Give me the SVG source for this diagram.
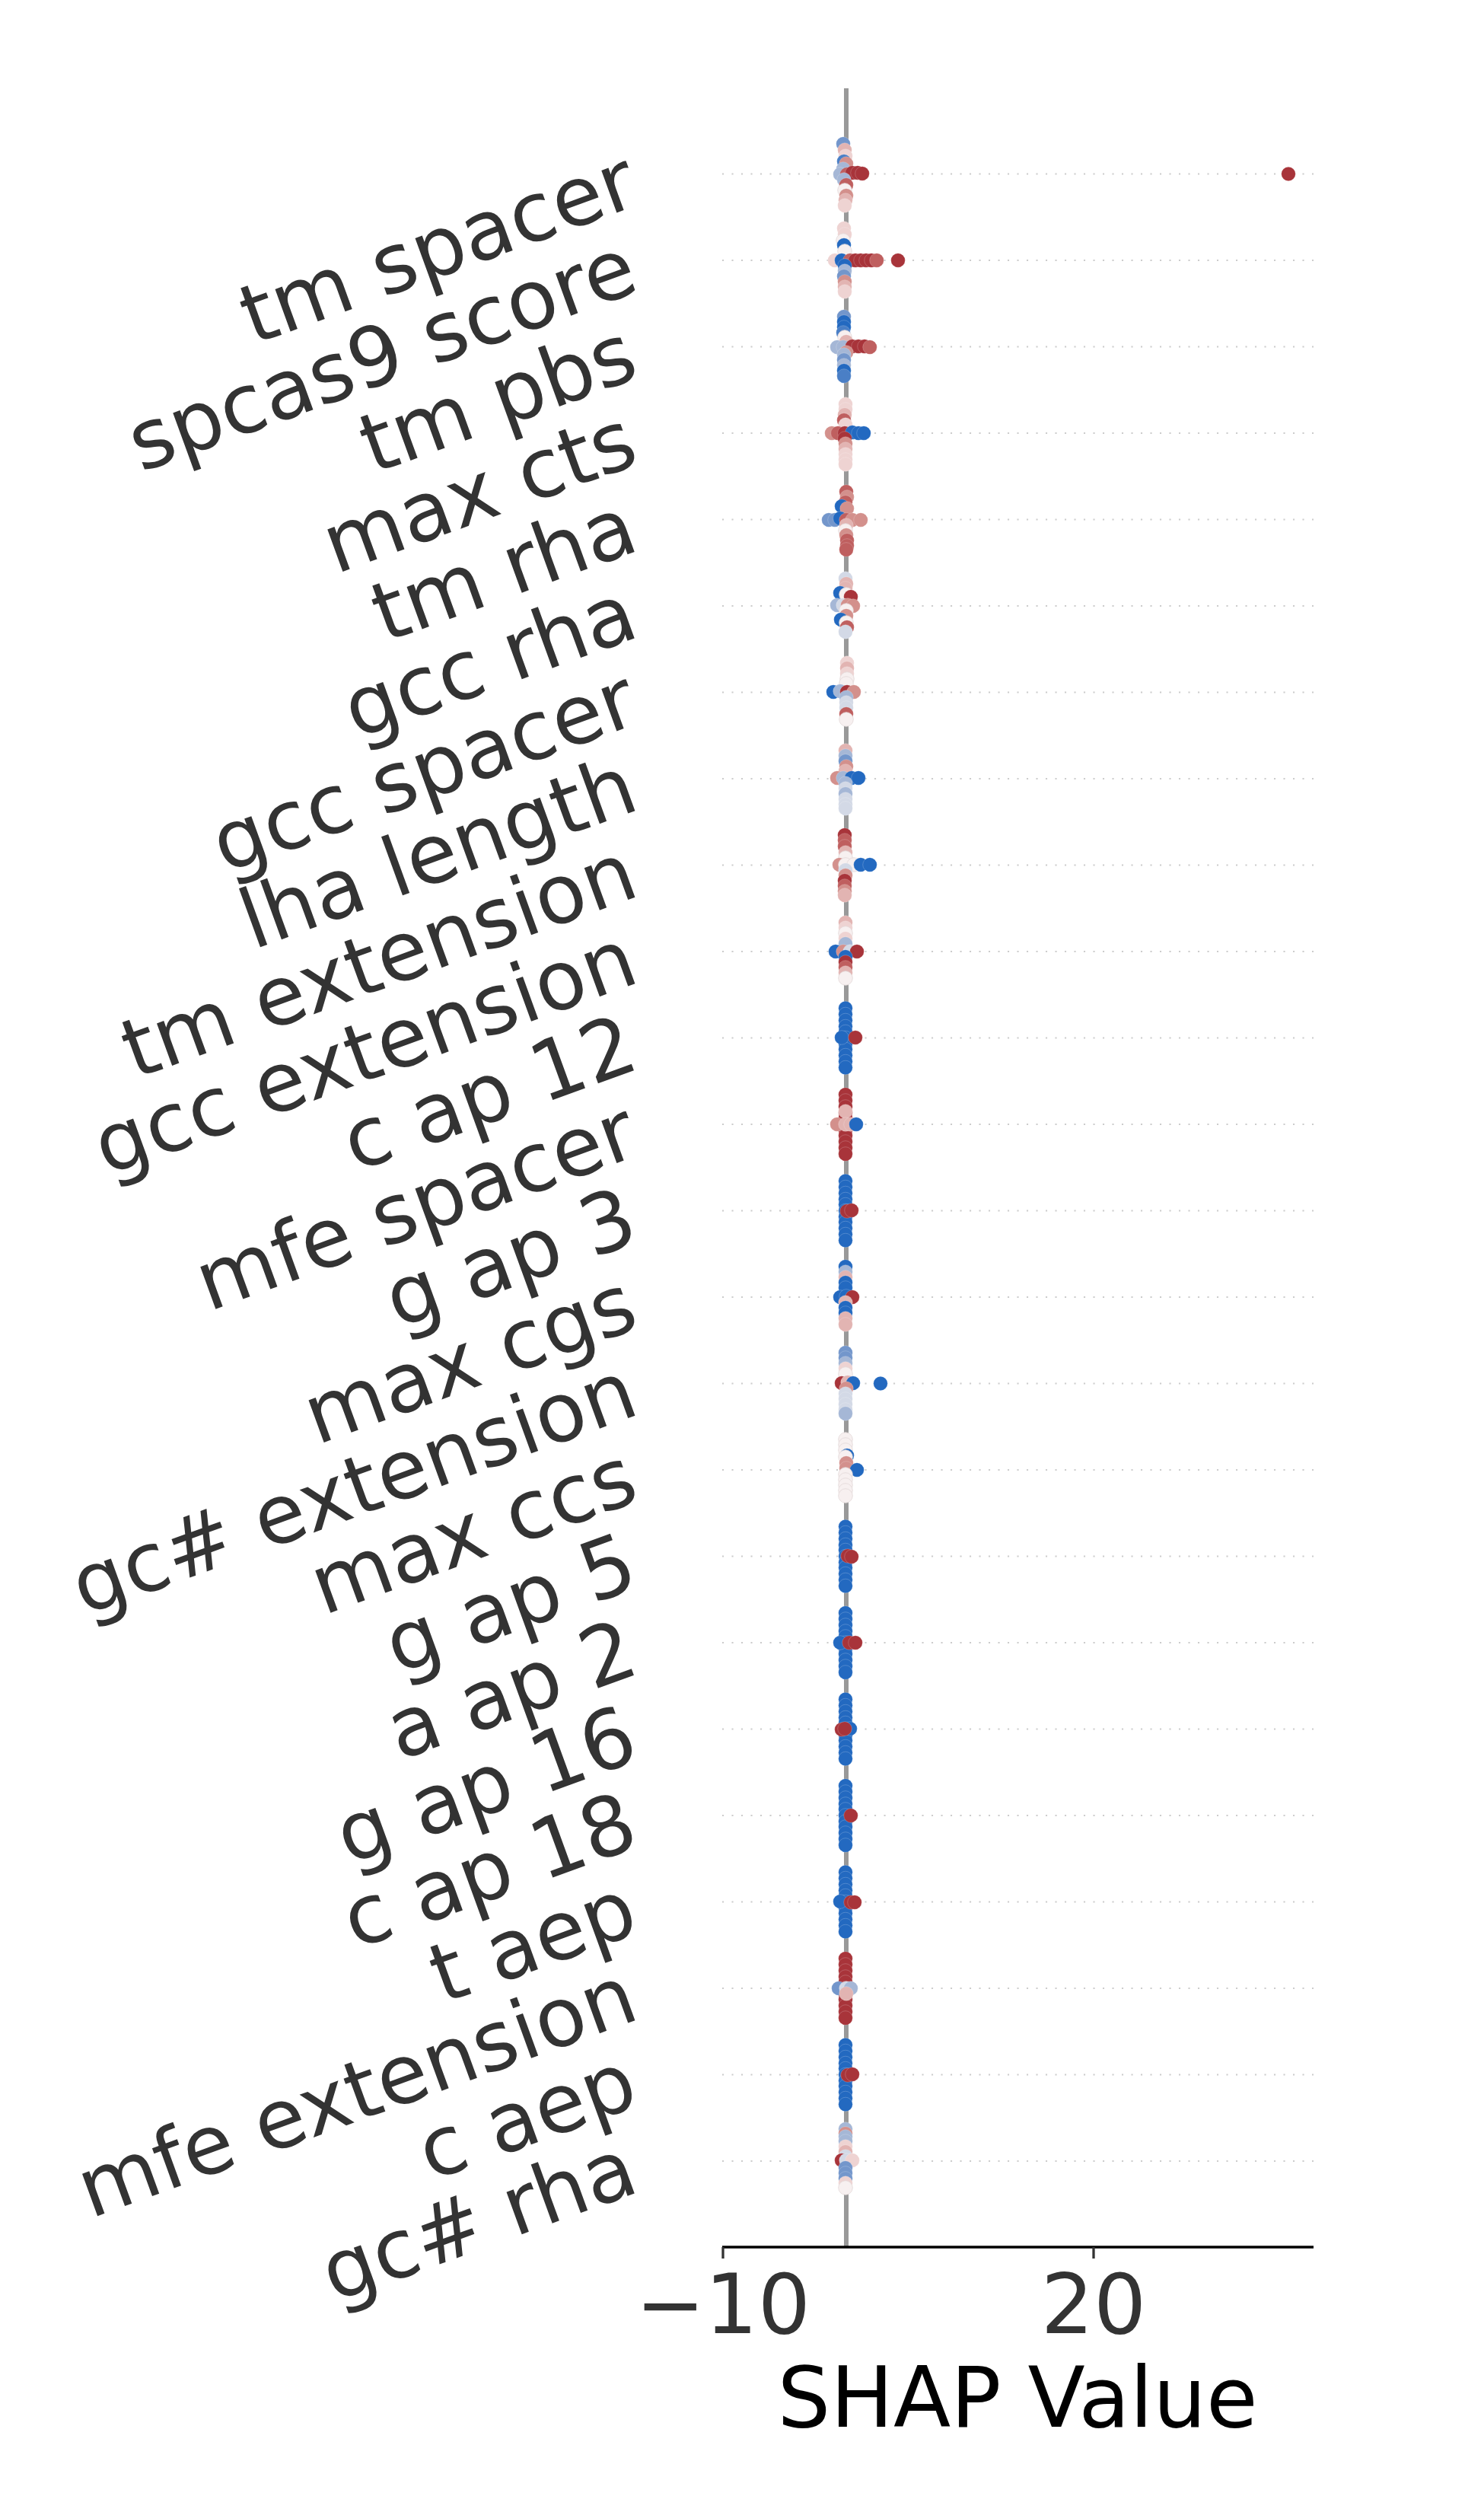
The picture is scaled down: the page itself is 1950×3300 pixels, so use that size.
<svg xmlns="http://www.w3.org/2000/svg" width="1950" height="3300" viewBox="0 0 1950 3300">
<style>
.grid{stroke:#cccccc;stroke-width:2.08;stroke-dasharray:2.08 10.42;fill:none}
.lab{font-family:"DejaVu Sans",sans-serif;font-size:108px;fill:#333333;text-anchor:end}
.tick{font-family:"DejaVu Sans",sans-serif;font-size:109px;fill:#333333;text-anchor:middle}
.xlab{font-family:"DejaVu Sans",sans-serif;font-size:110px;fill:#000000;text-anchor:middle}
circle{stroke:#ffffff;stroke-opacity:0.25;stroke-width:0.8}
.B{fill:#2369c0}.b2{fill:#4a7fc6}.b3{fill:#7396cb}.b4{fill:#a5b7d6}.b5{fill:#d3d9e6}
.W{fill:#f7f0f0;stroke:#e2d8d8;stroke-opacity:1}
.p5{fill:#eed3d2}.p4{fill:#e2b4b2}.p3{fill:#d3908c}.p2{fill:#bf5f5f}.R{fill:#a8343a}
</style>
<defs>
<g id="colB"><circle cx="0" cy="-39" r="9.3" class="B"/><circle cx="0" cy="-31" r="9.3" class="B"/><circle cx="0" cy="-23" r="9.3" class="B"/><circle cx="0" cy="-15" r="9.3" class="B"/><circle cx="0" cy="-8" r="9.3" class="B"/><circle cx="0" cy="0" r="9.3" class="B"/><circle cx="0" cy="8" r="9.3" class="B"/><circle cx="0" cy="15" r="9.3" class="B"/><circle cx="0" cy="23" r="9.3" class="B"/><circle cx="0" cy="31" r="9.3" class="B"/><circle cx="0" cy="39" r="9.3" class="B"/></g>
<g id="colR"><circle cx="0" cy="-39" r="9.3" class="R"/><circle cx="0" cy="-31" r="9.3" class="R"/><circle cx="0" cy="-23" r="9.3" class="R"/><circle cx="0" cy="-15" r="9.3" class="R"/><circle cx="0" cy="-8" r="9.3" class="R"/><circle cx="0" cy="0" r="9.3" class="R"/><circle cx="0" cy="8" r="9.3" class="R"/><circle cx="0" cy="15" r="9.3" class="R"/><circle cx="0" cy="23" r="9.3" class="R"/><circle cx="0" cy="31" r="9.3" class="R"/><circle cx="0" cy="39" r="9.3" class="R"/></g>
</defs>
<rect width="1950" height="3300" fill="#ffffff"/>
<g id="gridlines">
<line class="grid" x1="949" y1="228.5" x2="1726" y2="228.5"/>
<line class="grid" x1="949" y1="342" x2="1726" y2="342"/>
<line class="grid" x1="949" y1="455.5" x2="1726" y2="455.5"/>
<line class="grid" x1="949" y1="569" x2="1726" y2="569"/>
<line class="grid" x1="949" y1="682.5" x2="1726" y2="682.5"/>
<line class="grid" x1="949" y1="796" x2="1726" y2="796"/>
<line class="grid" x1="949" y1="909.5" x2="1726" y2="909.5"/>
<line class="grid" x1="949" y1="1023" x2="1726" y2="1023"/>
<line class="grid" x1="949" y1="1136.5" x2="1726" y2="1136.5"/>
<line class="grid" x1="949" y1="1250" x2="1726" y2="1250"/>
<line class="grid" x1="949" y1="1363.5" x2="1726" y2="1363.5"/>
<line class="grid" x1="949" y1="1477" x2="1726" y2="1477"/>
<line class="grid" x1="949" y1="1590.5" x2="1726" y2="1590.5"/>
<line class="grid" x1="949" y1="1704" x2="1726" y2="1704"/>
<line class="grid" x1="949" y1="1817.5" x2="1726" y2="1817.5"/>
<line class="grid" x1="949" y1="1931" x2="1726" y2="1931"/>
<line class="grid" x1="949" y1="2044.5" x2="1726" y2="2044.5"/>
<line class="grid" x1="949" y1="2158" x2="1726" y2="2158"/>
<line class="grid" x1="949" y1="2271.5" x2="1726" y2="2271.5"/>
<line class="grid" x1="949" y1="2385" x2="1726" y2="2385"/>
<line class="grid" x1="949" y1="2498.5" x2="1726" y2="2498.5"/>
<line class="grid" x1="949" y1="2612" x2="1726" y2="2612"/>
<line class="grid" x1="949" y1="2725.5" x2="1726" y2="2725.5"/>
<line class="grid" x1="949" y1="2839" x2="1726" y2="2839"/>
</g>
<g id="zero-line"><line x1="1112" y1="116" x2="1112" y2="2952" stroke="#999999" stroke-width="6"/></g>
<g id="x-axis">
<line x1="949" y1="2952" x2="1726" y2="2952" stroke="#000000" stroke-width="3.3"/>
<line x1="950" y1="2952" x2="950" y2="2967" stroke="#333333" stroke-width="3.3"/>
<line x1="1437" y1="2952" x2="1437" y2="2967" stroke="#333333" stroke-width="3.3"/>
<text class="tick" x="950" y="3065">−10</text>
<text class="tick" x="1437" y="3065">20</text>
<text class="xlab" x="1337" y="3188">SHAP Value</text>
</g>
<g id="row-tm-spacer">
<text class="lab" transform="translate(843,267.5) rotate(-20)">tm spacer</text>
<circle cx="1108" cy="189" r="9.3" class="b3"/><circle cx="1110" cy="197" r="9.3" class="p4"/><circle cx="1111" cy="205" r="9.3" class="p5"/><circle cx="1109" cy="212" r="9.3" class="b2"/><circle cx="1112" cy="215" r="9.3" class="p3"/><circle cx="1108" cy="222" r="9.3" class="b4"/><circle cx="1104" cy="229" r="9.3" class="b4"/><circle cx="1113" cy="229" r="9.3" class="p2"/><circle cx="1120" cy="227" r="9.3" class="R"/><circle cx="1127" cy="227" r="9.3" class="R"/><circle cx="1133" cy="228" r="9.3" class="R"/><circle cx="1109" cy="236" r="9.3" class="b4"/><circle cx="1112" cy="243" r="9.3" class="p2"/><circle cx="1110" cy="250" r="9.3" class="W"/><circle cx="1112" cy="257" r="9.3" class="p3"/><circle cx="1111" cy="263" r="9.3" class="p4"/><circle cx="1110" cy="270" r="9.3" class="p5"/><circle cx="1693" cy="228.5" r="9.3" class="R"/>
</g>
<g id="row-spcas9-score">
<text class="lab" transform="translate(843,381) rotate(-20)">spcas9 score</text>
<circle cx="1109" cy="300" r="9.3" class="p5"/><circle cx="1110" cy="308" r="9.3" class="p5"/><circle cx="1108" cy="316" r="9.3" class="W"/><circle cx="1109" cy="322" r="9.3" class="B"/><circle cx="1110" cy="330" r="9.3" class="W"/><circle cx="1097" cy="342" r="9.3" class="p5"/><circle cx="1106" cy="342" r="9.3" class="B"/><circle cx="1117" cy="342" r="9.3" class="p2"/><circle cx="1124" cy="342" r="9.3" class="R"/><circle cx="1131" cy="342" r="9.3" class="R"/><circle cx="1138" cy="342" r="9.3" class="R"/><circle cx="1145" cy="342" r="9.3" class="R"/><circle cx="1152" cy="342" r="9.3" class="p2"/><circle cx="1180" cy="342" r="9.3" class="R"/><circle cx="1110" cy="349" r="9.3" class="B"/><circle cx="1110" cy="356" r="9.3" class="b4"/><circle cx="1109" cy="363" r="9.3" class="b3"/><circle cx="1110" cy="370" r="9.3" class="p3"/><circle cx="1110" cy="377" r="9.3" class="p4"/><circle cx="1110" cy="383" r="9.3" class="p5"/>
</g>
<g id="row-tm-pbs">
<text class="lab" transform="translate(843,494.5) rotate(-20)">tm pbs</text>
<circle cx="1109" cy="416" r="9.3" class="b3"/><circle cx="1109" cy="423" r="9.3" class="B"/><circle cx="1109" cy="430" r="9.3" class="B"/><circle cx="1108" cy="437" r="9.3" class="b2"/><circle cx="1110" cy="443" r="9.3" class="W"/><circle cx="1112" cy="449" r="9.3" class="p4"/><circle cx="1100" cy="456" r="9.3" class="b4"/><circle cx="1108" cy="456" r="9.3" class="b4"/><circle cx="1120" cy="455" r="9.3" class="R"/><circle cx="1128" cy="455" r="9.3" class="R"/><circle cx="1136" cy="455" r="9.3" class="R"/><circle cx="1143" cy="456" r="9.3" class="p2"/><circle cx="1112" cy="463" r="9.3" class="p3"/><circle cx="1109" cy="466" r="9.3" class="b4"/><circle cx="1109" cy="473" r="9.3" class="b3"/><circle cx="1109" cy="480" r="9.3" class="b4"/><circle cx="1109" cy="487" r="9.3" class="B"/><circle cx="1109" cy="494" r="9.3" class="b2"/>
</g>
<g id="row-max-cts">
<text class="lab" transform="translate(843,608) rotate(-20)">max cts</text>
<circle cx="1111" cy="531" r="9.3" class="p5"/><circle cx="1111" cy="538" r="9.3" class="p5"/><circle cx="1110" cy="545" r="9.3" class="p4"/><circle cx="1109" cy="552" r="9.3" class="p2"/><circle cx="1111" cy="558" r="9.3" class="p5"/><circle cx="1093" cy="569" r="9.3" class="p3"/><circle cx="1101" cy="569" r="9.3" class="p2"/><circle cx="1110" cy="569" r="9.3" class="R"/><circle cx="1120" cy="568" r="9.3" class="B"/><circle cx="1128" cy="569" r="9.3" class="B"/><circle cx="1135" cy="569" r="9.3" class="B"/><circle cx="1110" cy="576" r="9.3" class="R"/><circle cx="1111" cy="583" r="9.3" class="p3"/><circle cx="1111" cy="590" r="9.3" class="p4"/><circle cx="1111" cy="597" r="9.3" class="p5"/><circle cx="1111" cy="604" r="9.3" class="p5"/><circle cx="1111" cy="610" r="9.3" class="p5"/>
</g>
<g id="row-tm-rha">
<text class="lab" transform="translate(843,721.5) rotate(-20)">tm rha</text>
<circle cx="1112" cy="646" r="9.3" class="p2"/><circle cx="1113" cy="653" r="9.3" class="p3"/><circle cx="1111" cy="660" r="9.3" class="p2"/><circle cx="1106" cy="665" r="9.3" class="B"/><circle cx="1113" cy="668" r="9.3" class="p3"/><circle cx="1089" cy="683" r="9.3" class="b3"/><circle cx="1097" cy="683" r="9.3" class="b3"/><circle cx="1104" cy="681" r="9.3" class="B"/><circle cx="1112" cy="683" r="9.3" class="p2"/><circle cx="1120" cy="683" r="9.3" class="p3"/><circle cx="1131" cy="683" r="9.3" class="p3"/><circle cx="1112" cy="690" r="9.3" class="p4"/><circle cx="1111" cy="697" r="9.3" class="W"/><circle cx="1112" cy="703" r="9.3" class="p3"/><circle cx="1113" cy="710" r="9.3" class="p2"/><circle cx="1113" cy="717" r="9.3" class="p2"/><circle cx="1112" cy="722" r="9.3" class="p2"/>
</g>
<g id="row-gcc-rha">
<text class="lab" transform="translate(843,835) rotate(-20)">gcc rha</text>
<circle cx="1111" cy="760" r="9.3" class="b5"/><circle cx="1112" cy="767" r="9.3" class="p4"/><circle cx="1111" cy="773" r="9.3" class="p4"/><circle cx="1104" cy="779" r="9.3" class="B"/><circle cx="1112" cy="781" r="9.3" class="W"/><circle cx="1118" cy="784" r="9.3" class="R"/><circle cx="1100" cy="795" r="9.3" class="b4"/><circle cx="1108" cy="795" r="9.3" class="b5"/><circle cx="1114" cy="795" r="9.3" class="p3"/><circle cx="1121" cy="796" r="9.3" class="p3"/><circle cx="1112" cy="802" r="9.3" class="W"/><circle cx="1112" cy="809" r="9.3" class="p3"/><circle cx="1105" cy="814" r="9.3" class="B"/><circle cx="1112" cy="818" r="9.3" class="W"/><circle cx="1113" cy="824" r="9.3" class="p2"/><circle cx="1111" cy="830" r="9.3" class="b5"/>
</g>
<g id="row-gcc-spacer">
<text class="lab" transform="translate(843,948.5) rotate(-20)">gcc spacer</text>
<circle cx="1113" cy="871" r="9.3" class="p5"/><circle cx="1113" cy="878" r="9.3" class="p4"/><circle cx="1113" cy="885" r="9.3" class="p5"/><circle cx="1113" cy="892" r="9.3" class="W"/><circle cx="1112" cy="898" r="9.3" class="W"/><circle cx="1095" cy="909" r="9.3" class="B"/><circle cx="1104" cy="908" r="9.3" class="b4"/><circle cx="1113" cy="909" r="9.3" class="R"/><circle cx="1122" cy="909" r="9.3" class="p3"/><circle cx="1112" cy="916" r="9.3" class="b4"/><circle cx="1112" cy="923" r="9.3" class="b5"/><circle cx="1112" cy="930" r="9.3" class="b5"/><circle cx="1112" cy="938" r="9.3" class="p2"/><circle cx="1112" cy="945" r="9.3" class="W"/>
</g>
<g id="row-lha-length">
<text class="lab" transform="translate(843,1062) rotate(-20)">lha length</text>
<circle cx="1111" cy="986" r="9.3" class="p4"/><circle cx="1111" cy="993" r="9.3" class="b4"/><circle cx="1111" cy="1000" r="9.3" class="b3"/><circle cx="1112" cy="1007" r="9.3" class="p3"/><circle cx="1111" cy="1013" r="9.3" class="p4"/><circle cx="1100" cy="1022" r="9.3" class="p3"/><circle cx="1108" cy="1022" r="9.3" class="b4"/><circle cx="1119" cy="1022" r="9.3" class="B"/><circle cx="1128" cy="1022" r="9.3" class="B"/><circle cx="1111" cy="1029" r="9.3" class="b4"/><circle cx="1111" cy="1036" r="9.3" class="b5"/><circle cx="1111" cy="1043" r="9.3" class="b4"/><circle cx="1111" cy="1050" r="9.3" class="b5"/><circle cx="1111" cy="1057" r="9.3" class="b5"/><circle cx="1111" cy="1062" r="9.3" class="b5"/>
</g>
<g id="row-tm-extension">
<text class="lab" transform="translate(843,1175.5) rotate(-20)">tm extension</text>
<circle cx="1110" cy="1097" r="9.3" class="R"/><circle cx="1110" cy="1104" r="9.3" class="p2"/><circle cx="1110" cy="1112" r="9.3" class="p2"/><circle cx="1111" cy="1120" r="9.3" class="p4"/><circle cx="1111" cy="1127" r="9.3" class="W"/><circle cx="1103" cy="1136" r="9.3" class="p3"/><circle cx="1111" cy="1136" r="9.3" class="W"/><circle cx="1122" cy="1136" r="9.3" class="W"/><circle cx="1131" cy="1136" r="9.3" class="B"/><circle cx="1143" cy="1136" r="9.3" class="B"/><circle cx="1111" cy="1143" r="9.3" class="b5"/><circle cx="1111" cy="1150" r="9.3" class="p3"/><circle cx="1110" cy="1157" r="9.3" class="R"/><circle cx="1110" cy="1164" r="9.3" class="p2"/><circle cx="1110" cy="1171" r="9.3" class="p3"/><circle cx="1110" cy="1176" r="9.3" class="p4"/>
</g>
<g id="row-gcc-extension">
<text class="lab" transform="translate(843,1289) rotate(-20)">gcc extension</text>
<circle cx="1111" cy="1212" r="9.3" class="p4"/><circle cx="1111" cy="1219" r="9.3" class="p5"/><circle cx="1111" cy="1226" r="9.3" class="W"/><circle cx="1111" cy="1233" r="9.3" class="p5"/><circle cx="1111" cy="1240" r="9.3" class="b4"/><circle cx="1098" cy="1250" r="9.3" class="B"/><circle cx="1108" cy="1250" r="9.3" class="p3"/><circle cx="1117" cy="1250" r="9.3" class="b5"/><circle cx="1126" cy="1250" r="9.3" class="R"/><circle cx="1111" cy="1257" r="9.3" class="B"/><circle cx="1111" cy="1264" r="9.3" class="R"/><circle cx="1111" cy="1271" r="9.3" class="p2"/><circle cx="1111" cy="1278" r="9.3" class="p4"/><circle cx="1111" cy="1285" r="9.3" class="W"/>
</g>
<g id="row-c-ap-12">
<text class="lab" transform="translate(843,1402.5) rotate(-20)">c ap 12</text>
<use href="#colB" x="1111" y="1363.5"/><circle cx="1106" cy="1363" r="9.3" class="B"/><circle cx="1124" cy="1363" r="9.3" class="R"/>
</g>
<g id="row-mfe-spacer">
<text class="lab" transform="translate(843,1516) rotate(-20)">mfe spacer</text>
<use href="#colR" x="1111" y="1477"/><circle cx="1111" cy="1460" r="9.3" class="p4"/><circle cx="1100" cy="1477" r="9.3" class="p3"/><circle cx="1111" cy="1477" r="9.3" class="p4"/><circle cx="1118" cy="1477" r="9.3" class="p4"/><circle cx="1125" cy="1477" r="9.3" class="B"/>
</g>
<g id="row-g-ap-3">
<text class="lab" transform="translate(843,1629.5) rotate(-20)">g ap 3</text>
<use href="#colB" x="1111" y="1590.5"/><circle cx="1113" cy="1591" r="9.3" class="R"/><circle cx="1119" cy="1590" r="9.3" class="R"/>
</g>
<g id="row-max-cgs">
<text class="lab" transform="translate(843,1743) rotate(-20)">max cgs</text>
<circle cx="1111" cy="1664" r="9.3" class="B"/><circle cx="1111" cy="1671" r="9.3" class="b4"/><circle cx="1111" cy="1678" r="9.3" class="p4"/><circle cx="1111" cy="1685" r="9.3" class="B"/><circle cx="1111" cy="1692" r="9.3" class="B"/><circle cx="1104" cy="1704" r="9.3" class="B"/><circle cx="1112" cy="1703" r="9.3" class="B"/><circle cx="1120" cy="1704" r="9.3" class="R"/><circle cx="1111" cy="1711" r="9.3" class="p4"/><circle cx="1111" cy="1718" r="9.3" class="B"/><circle cx="1111" cy="1725" r="9.3" class="B"/><circle cx="1111" cy="1732" r="9.3" class="p4"/><circle cx="1111" cy="1740" r="9.3" class="p4"/>
</g>
<g id="row-gc-extension">
<text class="lab" transform="translate(843,1856.5) rotate(-20)">gc# extension</text>
<circle cx="1111" cy="1777" r="9.3" class="b3"/><circle cx="1111" cy="1784" r="9.3" class="b3"/><circle cx="1111" cy="1791" r="9.3" class="b4"/><circle cx="1111" cy="1798" r="9.3" class="p5"/><circle cx="1111" cy="1805" r="9.3" class="W"/><circle cx="1106" cy="1817" r="9.3" class="R"/><circle cx="1114" cy="1816" r="9.3" class="p4"/><circle cx="1121" cy="1817" r="9.3" class="B"/><circle cx="1157" cy="1817.5" r="9.3" class="B"/><circle cx="1112" cy="1824" r="9.3" class="p3"/><circle cx="1111" cy="1831" r="9.3" class="b5"/><circle cx="1111" cy="1838" r="9.3" class="b5"/><circle cx="1111" cy="1845" r="9.3" class="b5"/><circle cx="1111" cy="1852" r="9.3" class="b5"/><circle cx="1111" cy="1857" r="9.3" class="b4"/>
</g>
<g id="row-max-ccs">
<text class="lab" transform="translate(843,1970) rotate(-20)">max ccs</text>
<circle cx="1111" cy="1891" r="9.3" class="W"/><circle cx="1111" cy="1898" r="9.3" class="W"/><circle cx="1111" cy="1905" r="9.3" class="W"/><circle cx="1113" cy="1912" r="9.3" class="B"/><circle cx="1111" cy="1914" r="9.3" class="W"/><circle cx="1112" cy="1922" r="9.3" class="p3"/><circle cx="1112" cy="1929" r="9.3" class="p3"/><circle cx="1126" cy="1931" r="9.3" class="B"/><circle cx="1111" cy="1937" r="9.3" class="W"/><circle cx="1111" cy="1944" r="9.3" class="W"/><circle cx="1111" cy="1951" r="9.3" class="W"/><circle cx="1111" cy="1958" r="9.3" class="W"/><circle cx="1111" cy="1965" r="9.3" class="W"/>
</g>
<g id="row-g-ap-5">
<text class="lab" transform="translate(843,2083.5) rotate(-20)">g ap 5</text>
<use href="#colB" x="1111" y="2044.5"/><circle cx="1114" cy="2044" r="9.3" class="R"/><circle cx="1119" cy="2045" r="9.3" class="R"/>
</g>
<g id="row-a-ap-2">
<text class="lab" transform="translate(843,2197) rotate(-20)">a ap 2</text>
<use href="#colB" x="1111" y="2158"/><circle cx="1104" cy="2158" r="9.3" class="B"/><circle cx="1116" cy="2158" r="9.3" class="R"/><circle cx="1124" cy="2158" r="9.3" class="R"/>
</g>
<g id="row-g-ap-16">
<text class="lab" transform="translate(843,2310.5) rotate(-20)">g ap 16</text>
<use href="#colB" x="1111" y="2271.5"/><circle cx="1117" cy="2271" r="9.3" class="B"/><circle cx="1106" cy="2272" r="9.3" class="R"/><circle cx="1110" cy="2271" r="9.3" class="R"/>
</g>
<g id="row-c-ap-18">
<text class="lab" transform="translate(843,2424) rotate(-20)">c ap 18</text>
<use href="#colB" x="1111" y="2385"/><circle cx="1118" cy="2385" r="9.3" class="R"/>
</g>
<g id="row-t-aep">
<text class="lab" transform="translate(843,2537.5) rotate(-20)">t aep</text>
<use href="#colB" x="1111" y="2498.5"/><circle cx="1104" cy="2498" r="9.3" class="B"/><circle cx="1118" cy="2499" r="9.3" class="R"/><circle cx="1123" cy="2499" r="9.3" class="R"/>
</g>
<g id="row-mfe-extension">
<text class="lab" transform="translate(843,2651) rotate(-20)">mfe extension</text>
<use href="#colR" x="1111" y="2612"/><circle cx="1102" cy="2612" r="9.3" class="b3"/><circle cx="1112" cy="2612" r="9.3" class="b5"/><circle cx="1118" cy="2612" r="9.3" class="b4"/><circle cx="1112" cy="2619" r="9.3" class="p4"/>
</g>
<g id="row-c-aep">
<text class="lab" transform="translate(843,2764.5) rotate(-20)">c aep</text>
<use href="#colB" x="1111" y="2725.5"/><circle cx="1114" cy="2726" r="9.3" class="R"/><circle cx="1120" cy="2725" r="9.3" class="R"/>
</g>
<g id="row-gc-rha">
<text class="lab" transform="translate(843,2878) rotate(-20)">gc# rha</text>
<circle cx="1111" cy="2797" r="9.3" class="b4"/><circle cx="1111" cy="2803" r="9.3" class="p3"/><circle cx="1111" cy="2807" r="9.3" class="b4"/><circle cx="1111" cy="2813" r="9.3" class="b4"/><circle cx="1111" cy="2820" r="9.3" class="p5"/><circle cx="1111" cy="2827" r="9.3" class="p4"/><circle cx="1111" cy="2833" r="9.3" class="b5"/><circle cx="1106" cy="2838" r="9.3" class="R"/><circle cx="1112" cy="2838" r="9.3" class="b5"/><circle cx="1120" cy="2838" r="9.3" class="p5"/><circle cx="1111" cy="2848" r="9.3" class="b3"/><circle cx="1111" cy="2855" r="9.3" class="b3"/><circle cx="1111" cy="2862" r="9.3" class="b3"/><circle cx="1111" cy="2868" r="9.3" class="p5"/><circle cx="1111" cy="2874" r="9.3" class="W"/>
</g>
</svg>
